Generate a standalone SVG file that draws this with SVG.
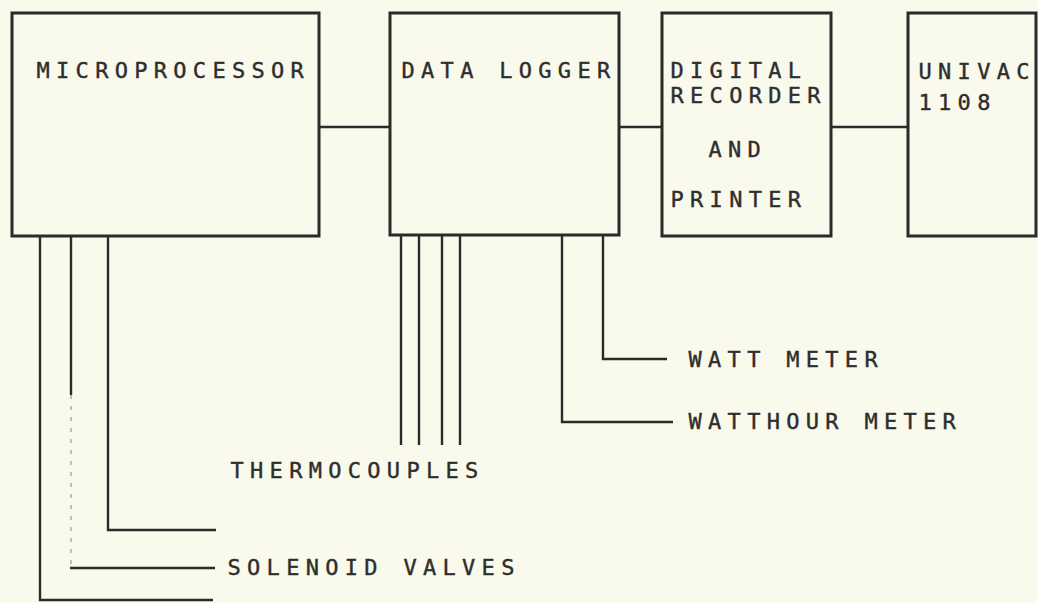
<svg xmlns="http://www.w3.org/2000/svg" width="1038" height="603" viewBox="0 0 1038 603">
<style>
.box{fill:none;stroke:#2b2b2b;stroke-width:3}
.wire{fill:none;stroke:#2b2b2b;stroke-width:2.4}
.faint{fill:none;stroke:#9a9a9a;stroke-width:1.2;stroke-dasharray:4 7}
.lbl{font-family:"DejaVu Sans Mono","Liberation Mono",monospace;font-size:22px;letter-spacing:6.3px;fill:#2e2e2e;stroke:#2e2e2e;stroke-width:0.4}
</style>
<rect x="0" y="0" width="1038" height="603" fill="#f9f9ec"/>
<g id="microprocessor">
<rect class="box" x="12" y="13" width="307" height="223"/>
<text class="lbl" x="36.5" y="78">MICROPROCESSOR</text>
</g>
<g id="data-logger">
<rect class="box" x="390" y="13" width="229" height="222"/>
<text class="lbl" x="401.5" y="78">DATA LOGGER</text>
</g>
<g id="digital-recorder">
<rect class="box" x="662" y="13" width="169" height="223"/>
<text class="lbl" x="670.5" y="78">DIGITAL</text>
<text class="lbl" x="670.5" y="103">RECORDER</text>
<text class="lbl" x="708.5" y="157">AND</text>
<text class="lbl" x="670.5" y="207">PRINTER</text>
</g>
<g id="univac">
<rect class="box" x="908" y="13" width="128" height="223"/>
<text class="lbl" x="918.5" y="79">UNIVAC</text>
<text class="lbl" x="918.5" y="110">1108</text>
</g>
<g id="thermocouples">
<text class="lbl" x="230.5" y="478">THERMOCOUPLES</text>
</g>
<g id="solenoid-valves">
<text class="lbl" x="227.5" y="575">SOLENOID VALVES</text>
</g>
<g id="watt-meter">
<text class="lbl" x="688.5" y="367">WATT METER</text>
</g>
<g id="watthour-meter">
<text class="lbl" x="688.5" y="429">WATTHOUR METER</text>
</g>
<g id="connectors">
<line class="wire" x1="319" y1="127" x2="390" y2="127"/>
<line class="wire" x1="619" y1="127" x2="662" y2="127"/>
<line class="wire" x1="831" y1="127" x2="908" y2="127"/>
<polyline class="wire" points="40,236 40,600 213,600"/>
<line class="wire" x1="71" y1="236" x2="71" y2="395"/>
<line class="faint" x1="71" y1="395" x2="71" y2="566"/>
<line class="wire" x1="70" y1="568" x2="215" y2="568"/>
<polyline class="wire" points="108,236 108,530 216,530"/>
<line class="wire" x1="401" y1="235" x2="401" y2="445"/>
<line class="wire" x1="419" y1="235" x2="419" y2="445"/>
<line class="wire" x1="442" y1="235" x2="442" y2="445"/>
<line class="wire" x1="460" y1="235" x2="460" y2="445"/>
<polyline class="wire" points="603,235 603,359 667,359"/>
<polyline class="wire" points="562,235 562,422 673,422"/>
</g>
</svg>
